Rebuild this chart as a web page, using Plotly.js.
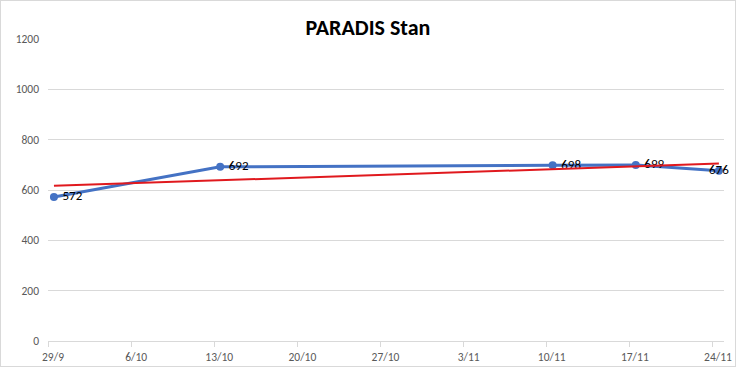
<!DOCTYPE html>
<html><head><meta charset="utf-8">
<script src="https://cdn.plot.ly/plotly-3.0.1.min.js"></script>
<style>html,body{margin:0;padding:0;background:#fff}#c{position:absolute;left:0;top:0;width:734px;height:365px;border:1px solid #d9d9d9}</style>
</head><body><div id="c"></div>
<script>
const tickLabels = ["29/9","6/10","13/10","20/10","27/10","3/11","10/11","17/11","24/11"];
const tickDays = [0,7,14,21,28,35,42,49,56];
const pointDays = [0,14,42,49,56];
const values = [572,692,698,699,676];

// linear trendline (least squares) from the data
const n = pointDays.length;
const mx = pointDays.reduce((a,b)=>a+b,0)/n;
const my = values.reduce((a,b)=>a+b,0)/n;
let sxy=0,sxx=0;
for(let i=0;i<n;i++){sxy+=(pointDays[i]-mx)*(values[i]-my);sxx+=(pointDays[i]-mx)**2;}
const slope=sxy/sxx, icpt=my-slope*mx;
const tx=[pointDays[0],pointDays[n-1]];
const ty=tx.map(x=>icpt+slope*x);

// ticks sit at the start of each day, points at mid-day
const tickPos = tickDays.map(d=>d-0.5);
const last = values.length-1;
const textPos = values.map((v,i)=> i===last ? 'middle center' : 'middle right');
const labels = values.map((v,i)=> i===last ? String(v) : '\u2009' + v);

const font = 'Calibri, Carlito, Lato, sans-serif';
const data=[
 {x:pointDays,y:values,type:'scatter',mode:'lines+markers+text',text:labels,
  textposition:textPos,textfont:{family:font,size:13,color:'#000'},
  line:{color:'#4472C4',width:3},marker:{color:'#4472C4',size:8},cliponaxis:false,hoverinfo:'none'},
 {x:tx,y:ty,type:'scatter',mode:'lines',line:{color:'#E0191E',width:2},hoverinfo:'none'}
];
const layout={
 width:734,height:365,showlegend:false,
 margin:{l:47,r:11,t:38,b:25},
 paper_bgcolor:'#fff',plot_bgcolor:'#fff',
 title:{text:'<b>PARADIS Stan</b>',x:0.5,xanchor:'center',y:0.929,yanchor:'middle',
   font:{family:font,size:22,color:'#000'}},
 xaxis:{range:[-0.5,56.43],tickvals:tickPos,ticktext:tickLabels,ticklabelshift:5,showgrid:false,zeroline:false,
   showline:true,linecolor:'#d9d9d9',linewidth:1,ticks:'outside',ticklen:5,tickcolor:'#d9d9d9',
   tickfont:{family:font,size:11.5,color:'#595959'}},
 yaxis:{range:[0,1200],dtick:200,tick0:0,showgrid:true,gridcolor:'#d9d9d9',gridwidth:1,zeroline:false,
   showline:false,ticks:'',ticklabelstandoff:8,
   tickfont:{family:font,size:11.5,color:'#595959'}}
};
Plotly.newPlot('c',data,layout,{displayModeBar:false,staticPlot:true});
</script></body></html>
